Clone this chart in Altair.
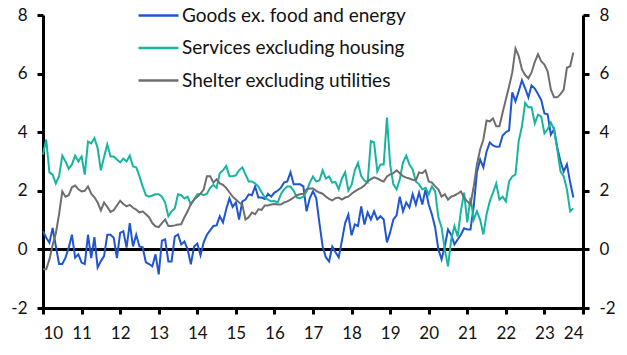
import altair as alt
import pandas as pd

# Monthly data, Jan 2010 .. Oct 2023 (% y/y)
goods = [
    0.62, 0.4, 0.23, 0.73, 0.11, -0.5, -0.5, -0.28, 0.06, 0.5, -0.28, -0.17,
    -0.45, -0.5, 0.5, -0.3, 0.42, -0.62, -0.4, -0.23, 0.5, 0.5, 0.4, -0.3,
    0.56, 0.62, 0.06, 0.9, 0.1, 0.5, 0.1, 0.07, -0.44, -0.5, -0.58, -0.17,
    -0.85, 0.3, 0.34, -0.41, -0.41, 0.44, 0.51, 0.17, 0.27, 0.0, -0.51, 0.1,
    0.2, -0.2, 0.24, 0.5, 0.65, 0.8, 0.82, 1.13, 0.92, 1.37, 1.74, 1.45,
    1.6, 1.02, 1.64, 1.7, 1.88, 1.85, 2.15, 1.77, 1.77, 1.72, 1.9, 1.8,
    1.94, 2.0, 2.1, 2.28, 2.32, 2.63, 2.22, 2.22, 2.22, 2.15, 1.3, 1.75,
    1.98, 1.75, 0.9, 0.1, -0.27, -0.41, 0.1, -0.1, -0.27, 0.3, 0.9, 1.19,
    0.48, 0.85, 0.8, 1.47, 0.85, 1.26, 1.02, 1.3, 1.02, 1.13, 1.02, 0.24,
    0.58, 1.02, 1.16, 1.8, 1.3, 1.6, 1.43, 1.88, 1.53, 1.94, 1.53, 2.05,
    1.53, 1.19, 0.75, 0.0, -0.34, 0.1, 0.68, 0.5, 0.17, 0.34, 0.5, 0.72,
    0.68, 0.68, 1.47, 2.63, 3.07, 2.8, 3.34, 3.65, 3.55, 3.5, 3.51, 3.89,
    4.0, 4.06, 5.36, 5.05, 5.4, 5.77, 5.5, 5.19, 5.6, 5.49, 5.3, 5.1,
    4.64, 4.61, 3.92, 4.1, 3.48, 3.0, 2.66, 2.9, 2.29, 1.77,
]
services = [
    3.24, 3.75, 2.63, 2.55, 2.25, 2.5, 3.2, 3.0, 2.75, 2.9, 3.2, 3.0,
    3.17, 2.55, 3.68, 3.62, 3.8, 3.45, 2.7, 3.15, 3.58, 3.17, 3.17, 3.07,
    2.97, 3.1, 3.0, 3.2, 2.83, 2.8, 2.5, 2.15, 1.85, 1.8, 1.84, 1.88,
    1.88, 1.8, 1.6, 1.13, 1.3, 1.4, 1.88, 1.85, 1.74, 1.8, 1.53, 1.7,
    1.88, 1.9, 1.85, 1.9, 2.1, 2.2, 2.1, 2.6, 2.7, 2.85, 2.5, 2.5,
    2.53, 2.7, 2.8, 2.56, 2.32, 2.32, 2.25, 2.15, 1.95, 1.78, 1.7, 1.64,
    1.65, 1.6, 1.88, 2.05, 2.15, 2.15, 2.0, 1.77, 1.75, 1.8, 1.98, 2.28,
    2.49, 2.32, 2.35, 2.7, 2.42, 2.49, 2.28, 2.3, 2.05, 2.42, 2.63, 2.01,
    2.2, 2.7, 2.95, 2.5, 2.35, 2.29, 3.7, 3.65, 2.66, 2.9, 2.9, 4.5,
    2.9, 2.22, 2.05, 2.39, 2.97, 3.2, 2.9, 2.73, 2.32, 2.22, 2.05, 2.1,
    1.88, 2.15, 1.98, 1.1, 0.75, 0.0, -0.58, 0.34, 0.8, 0.44, 1.3, 1.94,
    0.92, 1.77, 1.02, 1.3, 1.02, 0.51, 1.2, 1.64, 1.94, 2.25, 1.7, 1.8,
    1.64, 2.32, 2.49, 2.56, 3.7, 4.2, 5.0, 4.85, 4.85, 4.3, 4.6, 4.54,
    3.96, 4.1, 4.33, 4.1, 3.41, 2.66, 2.49, 2.05, 1.3, 1.4,
]
shelter = [
    -0.68, -0.68, -0.34, 0.15, 0.55, 1.2, 1.98, 1.8, 1.85, 2.12, 2.18, 2.05,
    1.98, 2.0, 2.15, 1.9, 1.78, 1.6, 1.33, 1.6, 1.45, 1.28, 1.34, 1.5,
    1.66, 1.55, 1.47, 1.52, 1.42, 1.36, 1.26, 1.3, 1.2, 1.1, 0.9, 0.79,
    0.76, 0.9, 1.02, 0.8, 0.8, 0.82, 0.85, 0.86, 1.1, 1.3, 1.55, 1.7,
    1.8, 1.9, 2.05, 2.5, 2.5, 2.28, 2.39, 2.25, 2.2, 2.1, 1.95, 1.8,
    1.7, 1.6, 1.53, 1.02, 1.1, 1.26, 1.2, 1.37, 1.35, 1.5, 1.5, 1.53,
    1.55, 1.53, 1.53, 1.6, 1.64, 1.7, 1.77, 1.85, 1.88, 1.9, 2.05, 2.08,
    2.08, 2.0, 1.94, 1.9, 1.8, 1.72, 1.67, 1.75, 1.77, 1.7, 1.77, 1.8,
    1.9, 1.98, 2.05, 2.1, 2.18, 2.32, 2.4, 2.46, 2.42, 2.36, 2.32, 2.49,
    2.56, 2.6, 2.7, 2.6, 2.5, 2.45, 2.42, 2.38, 2.36, 2.63, 2.6, 2.7,
    2.32, 2.28, 2.15, 2.05, 1.8, 1.88, 1.7, 1.8, 1.84, 1.9, 1.98, 1.77,
    1.64, 1.53, 2.15, 2.9, 3.41, 3.75, 4.4, 4.37, 4.47, 4.2, 4.2, 4.67,
    5.12, 5.56, 6.04, 6.86, 6.6, 6.14, 5.95, 5.84, 6.04, 6.4, 6.66, 6.42,
    6.31, 6.08, 5.46, 5.19, 5.19, 5.3, 5.45, 6.2, 6.25, 6.72,
]

series_names = ["Goods ex. food and energy", "Services excluding housing",
                "Shelter excluding utilities"]
series_colors = ["#1f55d0", "#17b5a0", "#6e6e6e"]
x_ticks = list(range(10, 25))
y_ticks = [-2, 0, 2, 4, 6, 8]
start_year = 10  # 2010, shown as two-digit year

rows = []
for name, vals in zip(series_names, [goods, services, shelter]):
    for i, v in enumerate(vals):
        rows.append({"t": start_year + i / 12.0, "value": v, "series": name})
df = pd.DataFrame(rows)

FONT = "Lato"
plain_label = "'' + datum.value"  # plain hyphen for negatives

x_enc = alt.X("t:Q", scale=alt.Scale(domain=[10, 24], nice=False, zero=False),
              axis=alt.Axis(values=x_ticks, format="d", title=None, grid=False,
                            labelPadding=11))
y_scale = alt.Scale(domain=[-2, 8], nice=False, zero=False)

lines = alt.Chart(df).mark_line(strokeWidth=2).encode(
    x=x_enc,
    y=alt.Y("value:Q", scale=y_scale,
            axis=alt.Axis(values=y_ticks, title=None, grid=False, orient="left",
                          labelPadding=10, labelExpr=plain_label)),
    color=alt.Color("series:N",
                    scale=alt.Scale(domain=series_names, range=series_colors),
                    legend=alt.Legend(
                        title=None, orient="none", legendX=106, legendY=-9,
                        symbolType="M-4,0H4", symbolSize=100,
                        symbolStrokeWidth=2.5, labelFont=FONT,
                        labelFontSize=19, labelColor="#111111",
                        labelOffset=14, rowPadding=12.5, padding=0,
                        labelLimit=0)),
)

zero_df = pd.DataFrame({"y": [0]})
zero = alt.Chart(zero_df).mark_rule(color="black", strokeWidth=3).encode(
    y=alt.Y("y:Q", scale=y_scale,
            axis=alt.Axis(values=y_ticks, title=None, grid=False, orient="right",
                          labelPadding=10, labelExpr=plain_label)),
)

chart = alt.layer(zero, lines).resolve_axis(y="independent").properties(
    width=540, height=293,
    autosize=alt.AutoSizeParams(type="none"),
    padding={"left": 43, "top": 15, "right": 44, "bottom": 47},
).configure_view(stroke=None).configure_axis(
    domainColor="black", domainWidth=3, tickColor="black", tickWidth=3,
    tickSize=6, labelFont=FONT, labelFontSize=17, labelColor="#111111",
)

chart.save("out.html", embed_options={"renderer": "svg", "actions": False})
